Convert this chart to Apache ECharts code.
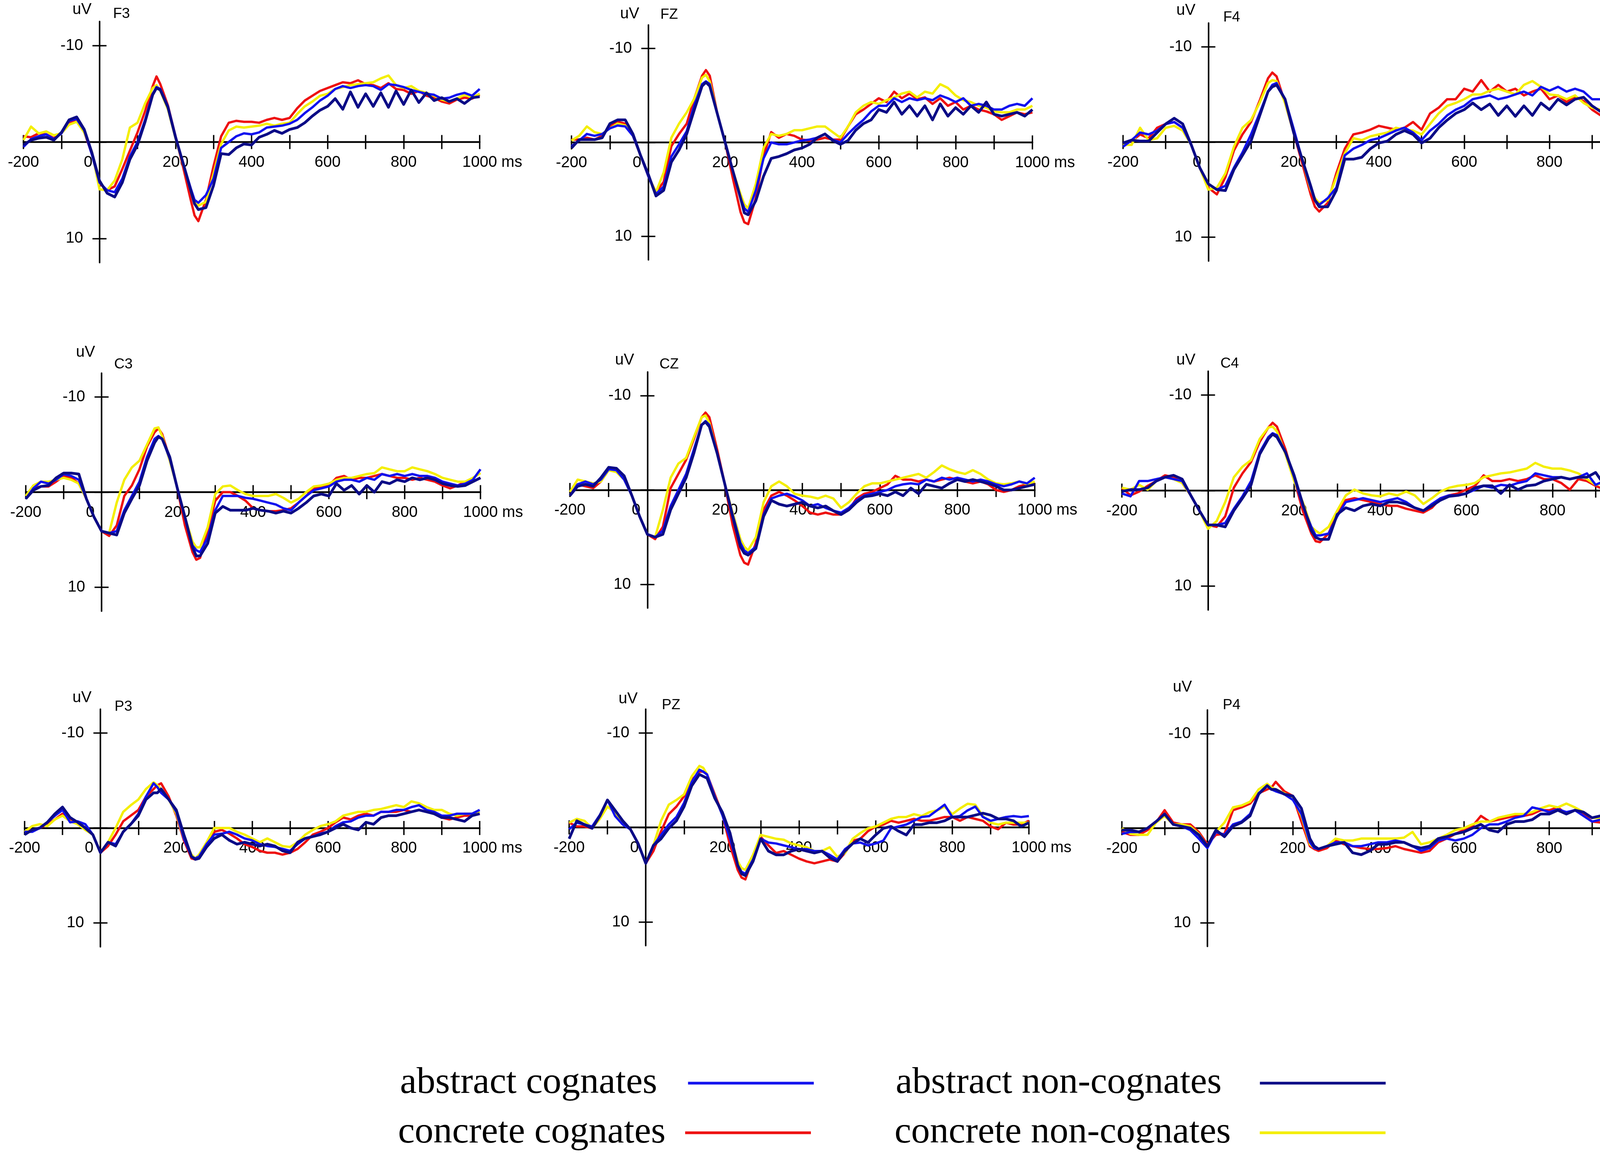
<!DOCTYPE html>
<html>
<head>
<meta charset="utf-8">
<title>ERP waveforms</title>
<script src="https://cdn.jsdelivr.net/npm/echarts@6/dist/echarts.min.js"></script>
<style>
  html, body { margin: 0; padding: 0; background: #fff; }
  #chart { width: 4309px; height: 2961px; }
</style>
</head>
<body>
<div id="chart"></div>
<script>
// sample times in ms (20 ms steps, plus 150 and 250 for the peaks)
var times = [-200,-180,-160,-140,-120,-100,-80,-60,-40,-20,
  0,20,40,60,80,100,120,140,150,160,180,200,220,240,250,
  260,280,300,320,340,360,380,400,
  420,440,460,480,500,520,540,560,580,600,620,640,660,680,700,
  720,740,760,780,800,820,840,860,880,900,920,940,960,980,1000];

// tick / label values
var xTicks = [-200,-100,0,100,200,300,400,500,600,700,800,900,1000];
var xLabels = [-200,0,200,400,600,800,1000];
var yTicks = [-10,0,10];
var yLabels = [-10,10];
var xMin = -200, xMax = 1000, yMin = -12.5, yMax = 12.5;

var electrodes = ['F3','FZ','F4','C3','CZ','C4','P3','PZ','P4'];
var conditions = ['concrete cognates','concrete non-cognates','abstract cognates','abstract non-cognates'];

// amplitudes in uV (negative plotted up)
// CC = concrete cognates, CNC = concrete non-cognates, AC = abstract cognates, ANC = abstract non-cognates
var F3_CC = [-0.6,-0.5,-0.9,-0.8,-0.4,-1.0,-2.0,-2.3,-1.0,1.2,
  4.3,5.0,4.6,2.8,0.9,-1.0,-3.2,-5.8,-6.8,-6.0,-3.8,-0.6,2.6,6.0,7.6,
  8.2,6.0,2.5,-0.6,-2.0,-2.2,-2.1,-2.1,
  -2.0,-2.3,-2.5,-2.3,-2.5,-3.5,-4.3,-4.8,-5.3,-5.6,-5.9,-6.2,-6.1,-6.4,-6.0,
  -5.9,-5.6,-6.1,-5.5,-5.4,-5.0,-5.3,-4.8,-4.6,-4.2,-4.0,-4.4,-4.6,-4.5,-4.9];
var F3_CNC = [-0.2,-1.6,-0.9,-1.1,-0.7,-0.9,-1.8,-2.1,-1.0,1.0,
  4.9,5.0,4.0,1.8,-1.5,-2.0,-4.0,-5.6,-5.9,-5.3,-3.4,-0.4,2.3,5.0,6.0,
  6.6,6.2,3.3,0.2,-1.2,-1.6,-1.5,-1.6,
  -1.7,-1.9,-1.7,-1.9,-2.0,-2.9,-3.7,-4.2,-4.8,-5.0,-5.5,-5.7,-5.9,-6.0,-6.1,
  -6.2,-6.6,-6.9,-5.9,-5.6,-5.8,-5.3,-5.1,-4.8,-4.4,-4.2,-4.5,-4.9,-4.6,-5.0];
var F3_AC = [0.5,-0.3,-0.6,-0.8,-0.3,-0.9,-2.2,-2.4,-1.2,1.3,
  4.2,5.0,5.2,3.8,1.5,0.0,-2.3,-5.0,-5.7,-5.5,-3.7,-0.6,2.2,4.8,6.0,
  6.3,5.5,3.8,0.6,0.0,-0.6,-0.9,-0.8,
  -1.0,-1.5,-1.6,-1.7,-1.9,-2.3,-3.0,-3.6,-4.3,-4.8,-5.5,-5.8,-5.6,-5.8,-5.9,
  -5.8,-5.4,-6.0,-5.9,-5.7,-5.4,-5.2,-5.0,-4.9,-4.5,-4.6,-4.9,-5.1,-4.8,-5.5];
var F3_ANC = [0.3,-0.2,-0.4,-0.5,-0.2,-1.0,-2.3,-2.6,-1.3,1.1,
  4.0,5.3,5.7,4.2,1.8,0.3,-2.1,-4.9,-5.6,-5.4,-3.6,-0.5,2.2,5.0,6.4,
  7.0,6.8,4.5,1.2,1.3,0.6,0.2,0.3,
  -0.5,-0.8,-1.2,-0.9,-1.3,-1.5,-2.0,-2.7,-3.3,-3.7,-4.5,-3.4,-5.2,-3.6,-5.0,
  -3.7,-5.1,-3.6,-5.3,-3.9,-5.4,-4.1,-5.1,-4.3,-4.6,-4.2,-4.5,-4.0,-4.6,-4.7];

var FZ_CC = [-0.3,-0.3,-0.5,-0.3,-0.7,-1.7,-2.2,-2.0,-0.7,1.4,
  3.6,5.3,4.2,0.4,-0.9,-2.0,-4.7,-7.1,-7.7,-7.1,-3.0,0.0,3.8,7.4,8.5,
  8.7,5.9,1.4,-1.1,-0.5,-0.9,-0.7,-0.3,
  -0.2,-0.3,-0.5,-0.3,-0.3,-1.7,-3.0,-3.5,-4.1,-4.7,-4.3,-5.4,-4.7,-5.2,-4.6,
  -4.8,-4.1,-4.7,-3.9,-4.3,-3.5,-3.9,-3.5,-3.3,-3.0,-2.4,-2.8,-3.2,-3.0,-3.2];
var FZ_CNC = [-0.2,-0.7,-1.7,-1.1,-0.9,-1.5,-2.0,-1.8,-0.7,1.4,
  3.6,5.3,3.2,-0.5,-2.0,-3.2,-4.7,-6.9,-7.2,-6.5,-3.0,0.0,3.0,5.5,6.6,
  7.0,4.4,0.6,-0.9,-0.7,-0.9,-1.3,-1.3,
  -1.5,-1.7,-1.7,-1.1,-0.5,-1.7,-3.2,-3.9,-4.3,-4.1,-4.5,-4.8,-5.2,-5.4,-4.8,
  -5.4,-5.2,-6.2,-5.8,-5.0,-4.5,-4.3,-3.9,-3.7,-3.3,-3.2,-3.2,-3.5,-3.5,-3.9];
var FZ_AC = [0.4,-0.2,-0.9,-0.7,-0.9,-1.5,-1.8,-1.7,-0.7,1.4,
  3.6,5.5,4.7,1.5,0.2,-1.2,-4.0,-6.2,-6.5,-6.2,-3.0,0.0,3.0,5.9,7.0,
  7.4,5.1,1.7,0.0,0.2,0.2,0.0,-0.2,
  -0.3,-0.5,-0.9,-0.3,0.0,-0.9,-1.7,-2.4,-3.3,-3.9,-3.9,-4.7,-4.3,-4.7,-4.5,
  -4.7,-4.5,-5.0,-4.7,-4.3,-4.7,-3.9,-4.1,-3.9,-3.5,-3.5,-3.9,-4.1,-3.9,-4.7];
var FZ_ANC = [0.6,-0.3,-0.3,-0.3,-0.5,-2.0,-2.4,-2.4,-0.9,1.4,
  3.4,5.7,5.1,2.1,0.8,-0.9,-3.5,-6.0,-6.4,-6.0,-3.0,0.0,3.0,5.9,7.5,
  7.7,6.2,3.6,1.7,1.5,1.2,0.8,0.6,
  0.2,-0.5,-0.9,-0.2,0.2,-0.2,-1.3,-2.0,-2.4,-3.5,-3.2,-4.3,-3.0,-3.9,-2.8,
  -3.9,-2.4,-4.1,-2.8,-3.7,-3.0,-3.9,-3.2,-4.3,-3.0,-2.8,-3.0,-3.2,-2.8,-3.5];

var F4_CC = [0.1,-0.1,-0.8,-0.4,-1.5,-1.9,-2.1,-1.5,0.3,2.7,
  4.8,5.5,3.7,0.9,-0.8,-2.1,-4.3,-6.7,-7.3,-6.9,-4.1,-1.0,2.2,5.5,6.8,
  7.3,6.4,3.3,0.7,-0.8,-1.0,-1.3,-1.7,
  -1.5,-1.3,-1.5,-2.1,-1.3,-3.0,-3.6,-4.5,-4.5,-5.6,-5.3,-6.5,-5.3,-6.0,-5.3,
  -5.6,-4.9,-5.3,-5.6,-4.5,-4.9,-4.2,-4.8,-4.3,-3.4,-2.8,-3.6,-3.8,-4.1,-4.0];
var F4_CNC = [0.3,0.3,-1.5,-0.2,-0.4,-1.5,-1.7,-1.2,0.3,2.7,
  5.0,4.8,3.3,0.5,-1.5,-2.3,-4.1,-6.2,-6.5,-6.4,-4.1,-1.0,1.8,5.0,5.9,
  6.4,6.1,3.7,1.2,-0.4,-0.2,-0.6,-0.8,
  -1.0,-1.5,-1.3,-1.2,-0.8,-1.9,-3.0,-3.8,-4.1,-4.5,-5.0,-5.0,-5.4,-5.6,-5.3,
  -5.0,-6.0,-6.4,-5.8,-5.0,-4.9,-4.5,-4.9,-4.1,-3.6,-3.4,-3.8,-3.9,-3.8,-4.1];
var F4_AC = [0.5,-0.2,-1.0,-0.8,-1.2,-1.9,-2.1,-1.5,0.3,2.7,
  4.4,5.0,4.6,2.7,1.1,-0.8,-3.0,-5.3,-6.0,-6.2,-4.5,-1.4,1.8,4.8,6.1,
  6.6,5.9,4.8,1.4,0.7,0.3,-0.2,-0.4,
  -0.8,-1.2,-1.5,-1.0,-0.2,-1.2,-1.9,-2.8,-3.4,-3.8,-4.5,-4.7,-4.9,-4.5,-4.7,
  -5.0,-5.3,-4.9,-5.8,-5.4,-5.8,-5.3,-5.6,-5.3,-4.5,-4.5,-4.5,-4.3,-4.1,-5.3];
var F4_ANC = [0.1,-0.2,-0.1,-0.1,-1.0,-1.9,-2.5,-1.9,0.3,2.7,
  4.4,5.0,5.1,2.9,1.4,-0.1,-2.7,-5.3,-5.8,-6.0,-4.5,-1.0,1.8,4.6,6.1,
  6.8,6.8,5.1,1.8,1.8,1.6,0.7,0.1,
  -0.1,-0.8,-1.2,-0.8,0.1,-0.4,-1.5,-2.3,-3.0,-3.4,-4.1,-3.4,-4.0,-2.8,-3.8,
  -2.7,-3.8,-2.8,-4.1,-3.4,-4.5,-3.9,-4.5,-4.7,-3.8,-3.2,-3.8,-3.4,-3.0,-3.8];

var C3_CC = [0.4,-0.4,-0.6,-0.6,-1.1,-1.7,-1.5,-0.9,0.7,2.6,
  4.1,4.6,3.5,0.4,-0.7,-2.4,-4.8,-6.3,-6.7,-6.1,-3.5,-0.4,3.5,6.3,7.1,
  6.9,4.1,0.9,0.0,0.0,0.4,0.9,1.7,
  1.9,2.0,2.0,1.9,1.7,1.1,0.4,-0.4,-0.6,-0.7,-1.5,-1.7,-1.3,-1.5,-1.5,
  -1.7,-1.9,-1.7,-1.5,-1.5,-1.3,-1.5,-1.3,-1.1,-0.7,-0.4,-0.7,-1.1,-1.1,-1.5];
var C3_CNC = [0.4,-0.7,-1.1,-1.1,-1.3,-1.5,-1.3,-0.9,0.7,2.6,
  4.1,4.3,1.1,-1.3,-2.6,-3.3,-5.0,-6.7,-6.8,-5.9,-3.3,-0.4,2.6,5.2,5.8,
  5.8,3.7,0.2,-0.6,-0.7,-0.2,0.2,0.4,
  0.4,0.4,0.2,0.6,1.1,0.7,0.0,-0.6,-0.7,-0.9,-1.3,-1.5,-1.5,-1.7,-1.9,
  -2.0,-2.6,-2.4,-2.2,-2.2,-2.6,-2.4,-2.2,-1.9,-1.5,-1.3,-1.1,-1.1,-1.5,-2.0];
var C3_AC = [0.7,-0.4,-1.1,-0.9,-1.3,-1.9,-1.7,-1.3,0.7,2.6,
  4.1,4.3,4.1,1.9,0.4,-1.1,-3.7,-5.6,-5.9,-5.6,-3.5,-0.4,2.6,5.6,6.1,
  6.3,4.8,1.9,0.4,0.4,0.4,0.6,0.7,
  0.9,1.1,1.3,1.7,1.9,1.1,0.4,-0.2,-0.4,-0.6,-1.1,-1.3,-1.3,-1.1,-1.5,
  -1.3,-1.9,-1.7,-1.9,-1.7,-1.9,-1.7,-1.7,-1.5,-1.1,-0.9,-0.7,-0.9,-1.3,-2.4];
var C3_ANC = [0.7,-0.2,-0.6,-0.7,-1.5,-2.0,-2.0,-1.9,0.7,2.6,
  4.1,4.3,4.5,2.2,0.7,-0.7,-3.3,-5.2,-5.8,-5.6,-3.7,-0.4,2.6,5.8,6.7,
  6.7,5.4,2.2,1.5,1.9,1.9,1.9,1.7,
  1.9,2.0,2.2,2.0,2.2,1.7,1.1,0.4,0.2,0.4,-0.9,-0.2,-0.7,0.2,-0.7,
  0.0,-1.1,-0.9,-1.3,-1.1,-1.5,-1.3,-1.5,-1.3,-0.9,-0.7,-0.6,-0.7,-1.1,-1.5];

var CZ_CC = [0.2,-0.6,-0.4,-0.2,-0.9,-2.2,-2.1,-1.3,0.6,2.8,
  4.7,5.2,3.9,-0.2,-1.7,-3.2,-5.4,-7.7,-8.2,-7.7,-4.3,-0.6,3.7,6.9,7.7,
  7.9,5.6,2.1,0.6,0.2,0.6,1.1,1.7,
  2.4,2.6,2.4,2.6,2.6,2.1,0.9,0.4,0.2,-0.2,-0.6,-1.5,-1.1,-1.1,-0.9,
  -1.1,-0.9,-1.1,-1.3,-1.1,-0.9,-0.7,-0.9,-0.6,0.0,0.2,0.0,-0.4,-0.6,-0.7];
var CZ_CNC = [0.2,-1.1,-0.9,-0.7,-0.9,-2.1,-1.9,-1.1,0.6,2.8,
  4.7,5.0,2.1,-1.3,-2.8,-3.4,-5.6,-7.7,-7.9,-7.1,-3.9,-0.6,2.4,5.2,6.0,
  6.4,5.0,1.3,-0.4,-0.9,-0.4,0.4,0.6,
  0.7,0.9,0.6,0.9,1.9,1.3,0.4,-0.4,-0.7,-0.7,-0.9,-1.1,-1.3,-1.5,-1.7,
  -1.3,-1.9,-2.6,-2.2,-1.9,-1.7,-2.1,-1.7,-1.1,-0.7,-0.6,-0.7,-0.9,-0.6,-0.9];
var CZ_AC = [0.6,-0.6,-0.9,-0.6,-1.1,-2.2,-2.1,-1.1,0.6,2.8,
  4.7,5.0,4.3,1.7,0.0,-1.7,-4.3,-6.9,-7.3,-6.9,-3.9,-0.6,2.6,5.6,6.4,
  6.7,6.0,2.6,0.9,0.6,0.4,0.7,1.1,
  1.7,1.5,1.9,2.2,2.4,1.9,1.1,0.6,0.4,0.2,0.0,-0.4,-0.6,-0.7,-0.6,
  -1.1,-0.9,-1.3,-1.1,-1.3,-1.1,-0.9,-1.1,-0.9,-0.6,-0.4,-0.6,-0.9,-0.7,-1.3];
var CZ_ANC = [0.6,-0.4,-0.6,-0.4,-1.3,-2.4,-2.3,-1.5,0.6,2.8,
  4.7,5.0,4.7,2.1,0.4,-1.3,-3.9,-6.9,-7.2,-6.7,-3.9,-0.6,2.8,6.0,6.7,
  6.9,6.2,2.8,1.1,1.5,1.7,1.5,1.3,
  1.7,1.9,1.7,2.2,2.6,2.1,1.3,0.7,0.6,0.4,0.6,0.2,0.6,-0.2,0.4,
  -0.6,-0.4,-0.2,-0.7,-1.1,-0.9,-1.1,-0.9,-0.7,-0.4,0.0,0.0,-0.2,-0.4,-0.6];

var C4_CC = [-0.3,0.5,0.1,-0.5,-1.0,-1.6,-1.4,-0.8,0.5,2.1,
  3.6,3.8,2.7,-0.3,-1.8,-3.0,-5.1,-6.6,-7.1,-6.7,-4.3,-1.2,2.1,4.5,5.3,
  5.4,4.5,2.3,1.0,0.8,1.0,1.2,1.4,
  1.6,1.6,1.9,2.1,2.3,1.8,0.8,0.5,0.3,-0.1,-0.5,-1.6,-1.0,-1.0,-1.2,
  -1.0,-1.2,-1.6,-1.2,-1.2,-0.8,-0.1,-1.2,-1.0,-0.5,-0.1,-0.6,-1.2,-1.0,-1.6];
var C4_CNC = [-0.3,-0.1,-0.6,-0.1,-1.0,-1.4,-1.2,-0.8,0.5,2.1,
  4.0,3.2,1.2,-1.4,-2.5,-3.2,-5.4,-6.6,-6.7,-6.2,-3.8,-1.0,1.2,3.8,4.2,
  4.5,3.8,2.1,0.5,-0.1,0.3,0.5,0.6,
  0.3,0.5,0.1,0.5,1.4,0.8,0.1,-0.3,-0.5,-0.6,-0.8,-1.4,-1.6,-1.8,-1.9,
  -2.1,-2.3,-2.9,-2.5,-2.3,-2.3,-2.1,-1.8,-1.2,-0.6,-0.8,-1.0,-1.2,-1.2,-1.6];
var C4_AC = [0.3,0.6,-1.0,-1.0,-1.2,-1.4,-1.2,-1.0,0.5,2.1,
  3.6,3.6,3.4,1.9,0.6,-1.0,-4.0,-5.6,-6.0,-5.8,-4.0,-1.4,1.6,3.8,4.7,
  4.7,4.5,2.7,1.2,1.0,0.8,1.0,1.2,
  1.0,0.8,1.2,1.8,2.1,1.4,0.8,0.5,0.5,0.3,-0.1,-0.5,-0.3,-0.6,-0.5,
  -0.8,-1.0,-1.8,-1.6,-1.4,-1.4,-1.2,-1.4,-1.8,-0.6,-1.0,-1.4,-1.6,-1.2,-1.9];
var C4_ANC = [0.1,-0.1,-0.1,-0.3,-1.0,-1.4,-1.6,-1.2,0.5,2.1,
  3.6,3.6,3.8,2.1,0.8,-0.6,-3.8,-5.4,-5.9,-5.6,-4.0,-1.6,1.4,4.2,4.9,
  5.1,5.1,2.5,1.8,2.1,1.6,1.4,1.6,
  1.2,1.2,1.4,1.8,2.1,1.6,1.0,0.6,0.5,0.3,-0.3,-0.5,-0.5,0.3,-0.6,
  -0.1,-0.5,-0.6,-1.0,-1.2,-1.4,-1.2,-1.4,-1.4,-1.9,-0.6,-0.6,-1.0,-0.8,-1.2];

var P3_CC = [0.4,0.2,0.0,-0.4,-0.9,-1.5,-0.9,-0.6,0.0,0.7,
  2.6,1.9,0.7,-0.7,-1.3,-1.9,-3.3,-4.1,-4.5,-4.7,-3.3,-1.3,1.3,3.2,3.3,
  3.0,1.9,0.4,0.2,0.6,1.1,1.7,2.0,
  2.4,2.6,2.6,2.8,2.6,2.2,1.5,0.7,0.4,0.0,-0.6,-1.1,-0.9,-1.3,-1.5,
  -1.3,-1.7,-1.7,-1.7,-1.9,-1.7,-1.9,-1.7,-1.5,-1.1,-0.9,-1.1,-1.3,-1.3,-1.5];
var P3_CNC = [0.4,-0.2,-0.4,-0.2,-0.9,-1.3,-0.7,-0.4,0.2,0.7,
  2.6,1.5,0.0,-1.7,-2.4,-3.0,-4.1,-4.8,-4.5,-4.1,-3.0,-1.5,1.1,2.8,3.2,
  2.8,1.5,0.0,0.0,0.0,0.4,0.7,1.1,
  1.5,1.1,1.5,1.9,2.0,1.5,0.7,0.2,-0.2,-0.4,-0.7,-1.3,-1.5,-1.7,-1.7,
  -1.9,-2.0,-2.2,-2.4,-2.2,-2.8,-2.6,-2.2,-1.9,-1.9,-1.5,-1.3,-1.5,-1.5,-1.7];
var P3_AC = [0.4,0.4,0.0,-0.6,-1.3,-1.9,-0.6,-0.7,-0.4,0.7,
  2.6,1.5,1.7,0.4,-0.4,-1.5,-3.3,-4.7,-4.3,-3.7,-3.0,-1.7,1.1,3.0,3.2,
  3.0,1.7,0.7,0.6,0.4,0.7,1.1,1.3,
  1.7,1.9,2.0,2.2,2.4,1.7,1.1,0.9,0.6,0.4,-0.2,-0.6,-0.7,-1.1,-1.3,
  -1.3,-1.7,-1.7,-1.9,-1.9,-2.2,-2.4,-1.9,-1.7,-1.3,-1.3,-1.5,-1.5,-1.5,-1.9];
var P3_ANC = [0.7,0.2,0.0,-0.6,-1.5,-2.2,-1.1,-0.6,0.0,0.7,
  2.6,1.5,1.9,0.4,-0.4,-1.3,-3.0,-3.7,-3.7,-4.1,-3.0,-1.9,0.7,3.0,3.3,
  3.2,2.0,1.1,0.7,1.3,1.7,1.5,1.7,
  1.9,1.7,1.9,2.4,2.6,1.5,1.1,0.9,0.7,0.4,0.0,-0.4,0.0,0.2,-0.6,
  -0.4,-1.1,-1.3,-1.3,-1.5,-1.7,-1.9,-1.7,-1.5,-1.1,-1.1,-0.9,-0.7,-1.3,-1.5];

var PZ_CC = [-0.5,-0.1,-0.1,0.1,-1.1,-2.9,-1.6,-0.5,0.2,1.7,
  3.8,2.5,0.4,-1.4,-2.2,-3.3,-5.0,-5.9,-5.9,-5.6,-3.5,-1.4,1.9,4.5,5.3,
  5.5,3.2,1.0,1.9,2.7,2.5,2.9,3.3,
  3.6,3.8,3.6,3.4,3.6,2.7,1.4,1.2,0.4,-0.1,-0.3,-0.7,-0.5,-0.7,-0.9,
  -0.7,-0.7,-0.9,-1.1,-1.1,-0.7,-1.1,-0.9,-0.7,-0.1,0.2,-0.5,-0.3,-0.3,-0.7];
var PZ_CNC = [-0.5,-0.9,-0.7,0.1,-0.9,-2.2,-1.6,-0.5,0.2,1.7,
  3.8,1.9,-0.7,-2.4,-2.9,-3.5,-5.4,-6.5,-6.3,-5.6,-3.3,-1.3,0.8,3.6,4.3,
  4.5,2.9,0.8,1.0,1.2,1.3,1.7,1.9,
  2.1,2.5,2.5,2.1,3.1,2.7,1.2,0.6,0.1,-0.1,-0.5,-0.9,-1.1,-1.1,-1.4,
  -1.2,-1.6,-1.8,-2.2,-1.4,-2.0,-2.5,-2.4,-1.2,-0.5,-0.3,-0.5,-0.5,-0.5,-0.5];
var PZ_AC = [0.2,-0.5,-0.3,-0.1,-1.3,-2.9,-1.2,-0.3,0.2,1.7,
  3.8,1.9,0.8,-0.3,-1.1,-2.6,-4.8,-6.1,-5.9,-5.6,-3.3,-1.3,1.2,4.0,4.7,
  4.9,3.4,1.2,1.6,1.7,1.9,2.1,2.3,
  2.3,2.5,2.5,2.9,3.4,2.3,1.7,1.6,1.9,1.7,1.4,0.1,-0.1,-0.3,-0.7,
  -1.1,-1.2,-1.8,-2.4,-1.1,-1.2,-1.8,-2.2,-1.1,-0.7,-0.9,-1.1,-1.2,-1.1,-1.2];
var PZ_ANC = [1.2,-0.7,-0.3,0.1,-1.2,-2.9,-1.8,-0.7,0.2,1.7,
  3.8,1.9,1.2,0.1,-0.7,-2.2,-4.4,-5.6,-5.4,-5.2,-3.1,-1.6,0.6,4.0,4.9,
  5.1,3.6,1.2,2.5,2.9,2.9,2.5,2.3,
  2.5,2.7,2.5,3.2,3.6,2.5,1.7,1.2,1.6,0.8,0.1,-0.1,0.4,0.8,-0.3,
  -0.3,-0.5,-0.5,-0.7,-1.1,-1.1,-1.1,-1.3,-1.5,-1.3,-0.9,-0.9,-0.7,-0.1,-0.5];

var P4_CC = [0.4,0.7,0.7,0.2,-0.6,-1.9,-0.6,-0.4,-0.4,0.4,
  1.7,0.7,0.6,-1.9,-2.2,-2.6,-3.7,-4.1,-4.3,-4.9,-3.9,-3.4,-0.7,1.9,2.2,
  2.4,2.1,1.3,1.7,1.9,2.1,2.2,2.2,
  2.1,1.9,2.2,2.4,2.6,2.4,1.5,1.1,0.6,0.2,-0.2,-1.3,-0.7,-0.9,-1.1,
  -1.3,-1.3,-1.5,-1.9,-1.9,-2.2,-1.5,-1.9,-1.5,-0.7,-0.6,-0.9,-1.3,-1.5,-1.7];
var P4_CNC = [0.0,0.6,0.7,0.7,-0.6,-1.3,-0.4,-0.4,-0.2,0.6,
  1.9,0.4,-0.6,-2.2,-2.4,-2.8,-4.1,-4.7,-4.3,-4.1,-3.7,-3.2,-1.3,1.7,2.1,
  2.2,1.9,1.1,1.3,1.3,1.1,1.1,1.1,
  1.1,1.1,1.0,0.4,1.7,1.5,1.1,0.7,0.2,0.0,-0.4,-0.7,-0.7,-1.1,-1.3,
  -1.5,-1.5,-1.7,-2.1,-2.4,-2.2,-2.6,-2.2,-1.7,-1.1,-1.1,-1.3,-1.1,-1.3,-1.3];
var P4_AC = [0.6,0.4,0.4,0.0,-0.7,-1.5,-0.4,-0.2,0.2,1.1,
  2.1,0.4,0.7,-0.4,-0.7,-1.5,-3.7,-4.5,-4.1,-3.9,-3.6,-3.0,-1.5,1.5,2.1,
  2.2,1.9,1.5,1.5,1.9,1.9,1.7,1.5,
  1.5,1.3,1.5,1.9,2.4,2.1,1.3,1.1,1.3,1.1,0.7,0.0,-0.4,-0.4,-0.7,
  -1.1,-1.3,-2.2,-2.0,-1.7,-2.0,-1.7,-1.9,-1.3,-0.7,-0.9,-1.3,-2.6,-1.9,-1.3];
var P4_ANC = [0.2,0.2,0.4,0.0,-0.7,-1.5,-0.4,-0.2,0.0,0.7,
  1.9,0.2,0.9,-0.2,-0.6,-1.3,-3.6,-4.5,-4.1,-4.1,-3.6,-3.4,-2.1,1.1,1.9,
  2.2,1.9,1.7,1.5,2.6,2.8,2.4,1.7,
  1.7,1.5,1.5,1.9,2.1,1.9,1.1,0.9,0.6,0.4,0.0,-0.4,0.2,0.4,-0.4,
  -0.7,-0.7,-0.9,-1.5,-1.5,-1.9,-1.5,-1.9,-1.7,-1.1,-1.3,-1.5,-1.5,-1.1,-1.3];

// one row per electrode, in the order of conditions
var waves = [
  [F3_CC, F3_CNC, F3_AC, F3_ANC],
  [FZ_CC, FZ_CNC, FZ_AC, FZ_ANC],
  [F4_CC, F4_CNC, F4_AC, F4_ANC],
  [C3_CC, C3_CNC, C3_AC, C3_ANC],
  [CZ_CC, CZ_CNC, CZ_AC, CZ_ANC],
  [C4_CC, C4_CNC, C4_AC, C4_ANC],
  [P3_CC, P3_CNC, P3_AC, P3_ANC],
  [PZ_CC, PZ_CNC, PZ_AC, PZ_ANC],
  [P4_CC, P4_CNC, P4_AC, P4_ANC]
];

// layout: grid boxes [left, top, width, height] and label anchors
var panelBoxes = [
  [60, 55, 1168, 617], [1463, 64, 1180, 601], [2875, 59, 1310, 609],
  [66, 955, 1164, 609], [1459, 952, 1190, 604], [2872, 950, 1323, 611],
  [63, 1815, 1165, 608], [1457, 1815, 1177, 605], [2872, 1817, 1313, 605]
];
var uvPos = [[210, 25], [1612, 36], [3036, 27], [219, 902], [1599, 922], [3036, 922], [210, 1786], [1608, 1789], [3027, 1759]];
var namePos = [[311, 36], [1713, 38], [3153, 45], [316, 933], [1713, 933], [3148, 931], [316, 1809], [1718, 1805], [3153, 1805]];

var lineColors = ['#ee1111', '#f4ee00', '#1212ee', '#0b0b86'];
var lineWidths = [6, 6, 6, 7];
var SANS = '"Liberation Sans", Arial, sans-serif';

var chart = echarts.init(document.getElementById('chart'), null, { renderer: 'canvas' });

function fmtX(v) {
  if (v === 0) return '0{s|0}';
  if (v === 1000) return '{g| ms}1000 ms';
  return String(v);
}

var grids = [], xAxes = [], yAxes = [], series = [], texts = [];

electrodes.forEach(function (name, i) {
  var b = panelBoxes[i];
  grids.push({ left: b[0], top: b[1], width: b[2], height: b[3], containLabel: false, outerBoundsMode: 'none' });

  // shift the axes from the grid edges onto the zero lines
  var xOff = -b[3] * (yMax - 0) / (yMax - yMin);
  var yOff = -b[2] * (0 - xMin) / (xMax - xMin);

  // main x axis: line, outward ticks, labels
  xAxes.push({
    type: 'value', gridIndex: i, min: xMin, max: xMax, position: 'bottom', offset: xOff,
    axisLine: { onZero: false, lineStyle: { color: '#000', width: 4.5 } },
    axisTick: { show: true, customValues: xTicks, length: 18, lineStyle: { color: '#000', width: 3.5 } },
    axisLabel: {
      customValues: xLabels, margin: 32, fontSize: 40, fontFamily: SANS, color: '#000',
      formatter: fmtX,
      rich: {
        g: { color: 'transparent', fontSize: 40, fontFamily: SANS },
        s: { color: 'transparent', fontSize: 40, fontFamily: SANS, width: 58 }
      }
    },
    splitLine: { show: false }
  });
  // twin x axis: inward half of the crossing ticks
  xAxes.push({
    type: 'value', gridIndex: i, min: xMin, max: xMax, position: 'bottom', offset: xOff,
    axisLine: { show: false, onZero: false },
    axisTick: { show: true, inside: true, customValues: xTicks, length: 18, lineStyle: { color: '#000', width: 3.5 } },
    axisLabel: { show: false },
    splitLine: { show: false }
  });

  yAxes.push({
    type: 'value', gridIndex: i, min: yMin, max: yMax, inverse: true, position: 'left', offset: yOff,
    axisLine: { onZero: false, lineStyle: { color: '#000', width: 4 } },
    axisTick: { show: true, customValues: yTicks, length: 18, lineStyle: { color: '#000', width: 3.5 } },
    axisLabel: { customValues: yLabels, margin: 42, padding: [28, 0, 0, 0], fontSize: 40, fontFamily: SANS, color: '#000' },
    splitLine: { show: false }
  });
  yAxes.push({
    type: 'value', gridIndex: i, min: yMin, max: yMax, inverse: true, position: 'left', offset: yOff,
    axisLine: { show: false, onZero: false },
    axisTick: { show: true, inside: true, customValues: yTicks, length: 18, lineStyle: { color: '#000', width: 3.5 } },
    axisLabel: { show: false },
    splitLine: { show: false }
  });

  waves[i].forEach(function (vals, k) {
    series.push({
      name: conditions[k], type: 'line',
      xAxisIndex: 2 * i, yAxisIndex: 2 * i,
      data: times.map(function (t, j) { return [t, vals[j]]; }),
      showSymbol: false, symbol: 'none', silent: true,
      color: lineColors[k],
      lineStyle: { color: lineColors[k], width: lineWidths[k], join: 'round' },
      z: 3
    });
  });

  texts.push({
    type: 'text', x: uvPos[i][0], y: uvPos[i][1], silent: true,
    style: { text: 'uV', font: '40px ' + SANS, fill: '#000', textAlign: 'center', textVerticalAlign: 'middle', align: 'center', verticalAlign: 'middle' }
  });
  texts.push({
    type: 'text', x: namePos[i][0], y: namePos[i][1], silent: true,
    style: { text: name, font: '37px ' + SANS, fill: '#000', textAlign: 'center', textVerticalAlign: 'middle', align: 'center', verticalAlign: 'middle' }
  });
});

// legend: text then a line swatch, two rows of two
var legendItems = [
  { name: 'abstract cognates', left: 1024, top: 2724, gap: 74 },
  { name: 'concrete cognates', left: 1019, top: 2851, gap: 45 },
  { name: 'abstract non-cognates', left: 2293, top: 2724, gap: 93 },
  { name: 'concrete non-cognates', left: 2290, top: 2851, gap: 69 }
];
var legends = legendItems.map(function (it) {
  return {
    data: [it.name], left: it.left, top: it.top, orient: 'horizontal', align: 'right',
    icon: 'rect', itemWidth: 322, itemHeight: 7, padding: 0, selectedMode: false,
    textStyle: { fontFamily: '"Liberation Serif", "Times New Roman", serif', fontSize: 96, color: '#000', padding: [0, it.gap, 0, 0] }
  };
});

chart.setOption({
  backgroundColor: '#fff',
  animation: false,
  grid: grids,
  xAxis: xAxes,
  yAxis: yAxes,
  legend: legends,
  graphic: texts,
  series: series
});
</script>
</body>
</html>
